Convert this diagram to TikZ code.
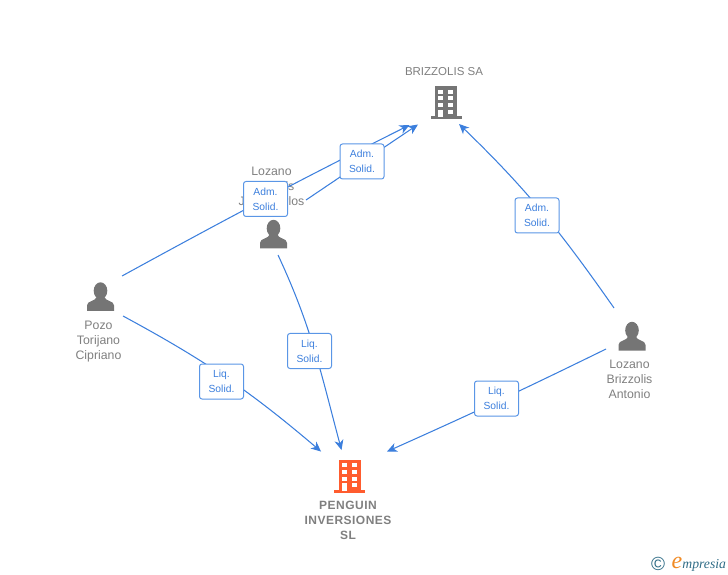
\documentclass[tikz,border=0pt]{standalone}
\usepackage{fontspec}
\usepackage{xcolor}
\setmainfont{Liberation Sans}
\newfontfamily\logofont{Liberation Serif}
\usetikzlibrary{arrows.meta}
\definecolor{linkblue}{HTML}{3C7FDD}
\definecolor{boxblue}{HTML}{5A96E6}
\definecolor{icongrey}{HTML}{757575}
\definecolor{nameGrey}{HTML}{7F7F7F}
\definecolor{iconorange}{HTML}{FF5C2E}
\definecolor{logoteal}{HTML}{2F6C86}
\definecolor{logoorange}{HTML}{F08A24}
\tikzset{
  link/.style={linkblue,line width=1.05pt,-{Stealth[length=10pt,width=9pt,inset=3pt]}},
  rolebox/.style={draw=boxblue,fill=white,line width=1pt,rounded corners=2.5pt,minimum width=44pt,minimum height=35pt,inner sep=0pt,align=center,text=linkblue,font=\fontsize{10.3}{15}\selectfont},
  personname/.style={text=nameGrey,inner sep=0pt,align=center,font=\fontsize{12.3}{15}\selectfont},
  companyname/.style={text=nameGrey,inner sep=0pt,align=center,font=\fontsize{11.5}{15}\selectfont},
  personicon/.pic={
    \fill [icongrey] (0,0.62) ellipse (0.68 and 0.85);
    \fill [icongrey] (-1.35,-1.4) -- (-1.35,-0.85) .. controls (-1.35,-0.35) and (-0.5,-0.45) .. (-0.38,0) -- (0.38,0) .. controls (0.5,-0.45) and (1.35,-0.35) .. (1.35,-0.85) -- (1.35,-1.4) -- cycle;
  },
  buildingicon/.pic={
    \fill [#1] (-1.1,0) rectangle (1.1,-3.15);
    \fill [#1] (-1.55,-3.05) rectangle (1.55,-3.3);
    \foreach \wy in {-0.37,-1.03,-1.7,-2.37} {
      \fill [white] (-0.8,\wy) rectangle (-0.3,{\wy-0.42});
      \fill [white] (0.2,\wy) rectangle (0.7,{\wy-0.42});
    }
    \fill [white] (-0.8,-2.6) rectangle (-0.3,-3.15);
  }
}
\begin{document}
\begin{tikzpicture}[scale=0.35146]
\useasboundingbox (0,0) rectangle (72.8,-57.5);
% icons
\pic [transform shape] at (44.6,-8.6) {buildingicon=icongrey};
\pic [transform shape] at (34.95,-45.95) {buildingicon=iconorange};
\pic [transform shape] at (10.05,-29.7) {personicon};
\pic [transform shape] at (27.35,-23.45) {personicon};
\pic [transform shape] at (63.2,-33.65) {personicon};
% names
\node [companyname] (brizzolis) at (44.4,-7.2) {BRIZZOLIS SA};
\node [companyname,font=\bfseries\fontsize{12}{15}\selectfont,align=center] (penguin) at (34.8,-52.05) {\addfontfeature{LetterSpace=4}PENGUIN\\\addfontfeature{LetterSpace=4}INVERSIONES\\\addfontfeature{LetterSpace=4}SL};
\node [personname] (pozo) at (9.85,-34.15) {Pozo\\Torijano\\Cipriano};
\node [personname] (juancarlos) at (27.15,-18.6) {Lozano\\Brizzolis\\Juan Carlos};
\node [personname] (antonio) at (62.95,-37.95) {Lozano\\Brizzolis\\Antonio};
% link ends
\coordinate (pozoup) at (12.2,-27.6);
\coordinate (pozodown) at (12.3,-31.6);
\coordinate (juanup) at (30.6,-20);
\coordinate (juandown) at (27.8,-25.5);
\coordinate (antonioup) at (61.4,-30.8);
\coordinate (antoniodown) at (60.6,-34.9);
\coordinate (brizzolisa) at (41.8,-12.45);
\coordinate (brizzolisb) at (40.95,-12.5);
\coordinate (brizzolisc) at (45.9,-12.4);
\coordinate (penguina) at (32.1,-45.15);
\coordinate (penguinb) at (34.15,-45);
\coordinate (penguinc) at (38.7,-45.15);
% links
\draw [link] (pozoup) to [bend left=1] (brizzolisb);
\draw [link] (juanup) -- (brizzolisa);
\draw [link] (antonioup) to [out=125,in=-44] (brizzolisc);
\draw [link] (pozodown) to [bend left=6] (penguina);
\draw [link] (juandown) to [out=-65,in=105] (penguinb);
\draw [link] (antoniodown) to [bend left=1] (penguinc);
% role boxes
\node [rolebox] (admpozo) at (26.55,-19.9) {Adm.\\Solid.};
\node [rolebox] (admjuan) at (36.2,-16.15) {Adm.\\Solid.};
\node [rolebox] (admantonio) at (53.7,-21.55) {Adm.\\Solid.};
\node [rolebox] (liqpozo) at (22.15,-38.15) {Liq.\\Solid.};
\node [rolebox] (liqjuan) at (30.95,-35.1) {Liq.\\Solid.};
\node [rolebox] (liqantonio) at (49.65,-39.85) {Liq.\\Solid.};
% logo
\node [inner sep=0pt,text=logoteal,font=\fontsize{19}{19}\selectfont] (copyright) at (65.8,-56.4) {©};
\node [inner sep=0pt,anchor=base west,text=logoteal,font=\logofont\itshape\fontsize{13.7}{15}\selectfont] (empresia) at (67.15,-56.85) {{\color{logoorange}\fontsize{24}{15}\selectfont e}mpresia};
\end{tikzpicture}
\end{document}
